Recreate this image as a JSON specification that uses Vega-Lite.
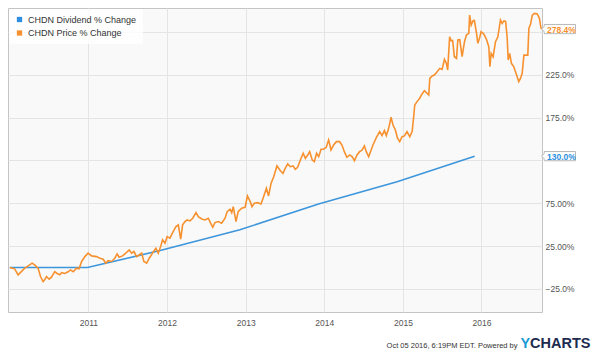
{
  "$schema": "https://vega.github.io/schema/vega-lite/v6.json",
  "width": 534,
  "height": 304,
  "autosize": "none",
  "padding": {"left": 8, "top": 8, "right": 58, "bottom": 43},
  "background": "white",
  "config": {
    "font": "Liberation Sans",
    "view": {"stroke": "#c4c4c4", "strokeWidth": 1, "fill": "#f9f9f9"},
    "axis": {"gridColor": "#e4e4e4", "gridWidth": 1, "domain": false, "ticks": false, "labelColor": "#555555", "labelFont": "Liberation Sans"}
  },
  "datasets": {
    "price": [
      {"date":"2010-01-01","value":0},{"date":"2010-01-24","value":-1.6},{"date":"2010-02-09","value":-8.6},{"date":"2010-02-24","value":-4.8},{"date":"2010-03-12","value":-0.8},{"date":"2010-03-26","value":1.5},{"date":"2010-04-15","value":5},{"date":"2010-04-27","value":3},{"date":"2010-05-13","value":-1},{"date":"2010-05-24","value":-10.6},{"date":"2010-06-05","value":-16.4},{"date":"2010-06-13","value":-14},{"date":"2010-06-21","value":-10.6},{"date":"2010-07-03","value":-13.7},{"date":"2010-07-14","value":-11.3},{"date":"2010-07-29","value":-4.8},{"date":"2010-08-09","value":-7},{"date":"2010-08-22","value":-8.6},{"date":"2010-08-30","value":-6},{"date":"2010-09-14","value":-7},{"date":"2010-09-29","value":-5},{"date":"2010-10-10","value":-2.8},{"date":"2010-10-23","value":-5},{"date":"2010-11-07","value":-0.8},{"date":"2010-11-19","value":-1.5},{"date":"2010-12-01","value":7},{"date":"2010-12-16","value":12.7},{"date":"2010-12-31","value":16.7},
      {"date":"2011-01-16","value":13.5},{"date":"2011-02-08","value":12.7},{"date":"2011-02-24","value":10.8},{"date":"2011-03-11","value":9.6},{"date":"2011-03-23","value":5},{"date":"2011-04-03","value":8},{"date":"2011-04-19","value":7},{"date":"2011-05-04","value":10.8},{"date":"2011-05-15","value":15.9},{"date":"2011-05-24","value":12},{"date":"2011-06-09","value":13.5},{"date":"2011-06-24","value":16.7},{"date":"2011-07-10","value":20.5},{"date":"2011-07-21","value":16.7},{"date":"2011-08-01","value":18.6},{"date":"2011-08-13","value":12.7},{"date":"2011-08-25","value":14.6},{"date":"2011-09-06","value":16.7},{"date":"2011-09-16","value":7},{"date":"2011-09-29","value":5},{"date":"2011-10-11","value":10.8},{"date":"2011-10-31","value":18.6},{"date":"2011-11-11","value":22.5},{"date":"2011-11-22","value":16.7},{"date":"2011-12-03","value":24.4},{"date":"2011-12-12","value":32.2},{"date":"2011-12-23","value":28.4},
      {"date":"2012-01-02","value":36},{"date":"2012-01-15","value":34.2},{"date":"2012-01-30","value":41.9},{"date":"2012-02-12","value":47.7},{"date":"2012-02-23","value":49.7},{"date":"2012-03-05","value":33},{"date":"2012-03-14","value":49.7},{"date":"2012-03-25","value":53.6},{"date":"2012-04-04","value":55.5},{"date":"2012-04-17","value":54.4},{"date":"2012-04-30","value":57.5},{"date":"2012-05-15","value":64},{"date":"2012-05-26","value":59.4},{"date":"2012-06-11","value":56.7},{"date":"2012-06-26","value":55.5},{"date":"2012-07-11","value":57.5},{"date":"2012-07-22","value":51.7},{"date":"2012-08-01","value":47},{"date":"2012-08-11","value":52.4},{"date":"2012-08-27","value":53.6},{"date":"2012-09-11","value":51.7},{"date":"2012-09-27","value":57.5},{"date":"2012-10-07","value":65.2},{"date":"2012-10-20","value":68},{"date":"2012-10-28","value":64},{"date":"2012-11-04","value":71},{"date":"2012-11-17","value":53.6},{"date":"2012-11-27","value":65.2},{"date":"2012-12-13","value":69.2},{"date":"2012-12-29","value":70.3},
      {"date":"2013-01-09","value":83.5},{"date":"2013-01-22","value":76.9},{"date":"2013-01-30","value":71},{"date":"2013-02-10","value":75},{"date":"2013-02-25","value":75.7},{"date":"2013-03-13","value":74.2},{"date":"2013-03-25","value":82.7},{"date":"2013-04-07","value":92.5},{"date":"2013-04-17","value":83.5},{"date":"2013-04-29","value":98.4},{"date":"2013-05-11","value":106},{"date":"2013-05-26","value":118.6},{"date":"2013-06-11","value":113},{"date":"2013-06-23","value":110},{"date":"2013-07-04","value":115.9},{"date":"2013-07-15","value":120.9},{"date":"2013-07-27","value":117.7},{"date":"2013-08-09","value":118.6},{"date":"2013-08-19","value":114.7},{"date":"2013-08-30","value":117},{"date":"2013-09-15","value":127.5},{"date":"2013-09-25","value":133.4},{"date":"2013-10-05","value":127.5},{"date":"2013-10-16","value":131.4},{"date":"2013-10-25","value":135.2},{"date":"2013-11-06","value":125.6},{"date":"2013-11-16","value":123.6},{"date":"2013-11-26","value":133.4},{"date":"2013-12-06","value":129.4},{"date":"2013-12-17","value":138},{"date":"2013-12-28","value":138},
      {"date":"2014-01-10","value":140.4},{"date":"2014-01-21","value":149},{"date":"2014-02-01","value":137.2},{"date":"2014-02-13","value":143},{"date":"2014-02-26","value":146.9},{"date":"2014-03-13","value":146.9},{"date":"2014-03-24","value":143},{"date":"2014-04-04","value":135.2},{"date":"2014-04-16","value":128.7},{"date":"2014-04-29","value":131.4},{"date":"2014-05-10","value":129.4},{"date":"2014-05-21","value":124.7},{"date":"2014-06-02","value":131.4},{"date":"2014-06-14","value":135.2},{"date":"2014-06-25","value":137},{"date":"2014-07-06","value":141.9},{"date":"2014-07-15","value":135.2},{"date":"2014-07-26","value":129.4},{"date":"2014-08-06","value":137},{"date":"2014-08-15","value":143},{"date":"2014-08-31","value":152},{"date":"2014-09-15","value":158.6},{"date":"2014-09-26","value":154},{"date":"2014-10-07","value":159.8},{"date":"2014-10-16","value":154},{"date":"2014-10-27","value":162.5},{"date":"2014-11-07","value":175.4},{"date":"2014-11-16","value":166.4},{"date":"2014-11-27","value":160.6},{"date":"2014-12-07","value":150.9},{"date":"2014-12-17","value":146.9},{"date":"2014-12-28","value":152.7},
      {"date":"2015-01-08","value":153.6},{"date":"2015-01-20","value":158.6},{"date":"2015-02-02","value":152.7},{"date":"2015-02-13","value":158.6},{"date":"2015-02-20","value":176},{"date":"2015-02-25","value":189.7},{"date":"2015-03-08","value":193.7},{"date":"2015-03-20","value":197.6},{"date":"2015-03-31","value":202.6},{"date":"2015-04-11","value":206.5},{"date":"2015-04-23","value":203.4},{"date":"2015-05-01","value":201.4},{"date":"2015-05-06","value":220.8},{"date":"2015-05-17","value":223.6},{"date":"2015-05-27","value":224.7},{"date":"2015-06-09","value":228.6},{"date":"2015-06-21","value":232.5},{"date":"2015-07-02","value":231.3},{"date":"2015-07-13","value":243},{"date":"2015-07-22","value":238.4},{"date":"2015-07-28","value":230.6},{"date":"2015-08-06","value":269.4},{"date":"2015-08-13","value":264.7},{"date":"2015-08-20","value":265},{"date":"2015-08-28","value":246.1},{"date":"2015-09-07","value":244.2},{"date":"2015-09-13","value":265.6},{"date":"2015-09-22","value":266},{"date":"2015-10-03","value":246.1},{"date":"2015-10-14","value":263.6},{"date":"2015-10-23","value":271.4},{"date":"2015-11-03","value":273.4},{"date":"2015-11-07","value":294.7},{"date":"2015-11-14","value":283},{"date":"2015-11-23","value":288.1},{"date":"2015-11-29","value":288.5},{"date":"2015-12-09","value":273.4},{"date":"2015-12-15","value":261.7},{"date":"2015-12-24","value":268.7},{"date":"2015-12-30","value":275.3},
      {"date":"2016-01-12","value":272.6},{"date":"2016-01-24","value":266.4},{"date":"2016-02-04","value":257.8},{"date":"2016-02-09","value":234.4},{"date":"2016-02-15","value":250},{"date":"2016-02-24","value":246},{"date":"2016-03-06","value":263.6},{"date":"2016-03-17","value":269.4},{"date":"2016-03-29","value":289},{"date":"2016-04-06","value":285},{"date":"2016-04-14","value":288},{"date":"2016-04-22","value":287.3},{"date":"2016-04-29","value":269.4},{"date":"2016-05-04","value":242.2},{"date":"2016-05-11","value":250},{"date":"2016-05-19","value":238.4},{"date":"2016-05-30","value":234.4},{"date":"2016-06-12","value":224.7},{"date":"2016-06-22","value":217},{"date":"2016-06-30","value":220.8},{"date":"2016-07-08","value":226.7},{"date":"2016-07-16","value":248},{"date":"2016-07-28","value":248},{"date":"2016-08-03","value":248},{"date":"2016-08-08","value":279.2},{"date":"2016-08-16","value":284.3},{"date":"2016-08-24","value":294.7},{"date":"2016-09-03","value":296.7},{"date":"2016-09-16","value":296},{"date":"2016-09-26","value":290.9},{"date":"2016-10-01","value":283},{"date":"2016-10-05","value":278.4}
    ],
    "dividend": [
      {"date":"2010-01-01","value":0},{"date":"2010-12-28","value":0},{"date":"2011-12-05","value":20},{"date":"2012-12-05","value":44},{"date":"2013-12-05","value":74},{"date":"2014-12-05","value":100},{"date":"2015-11-30","value":130}
    ],
    "callouts": [
      {"series":"CHDN Price % Change","value":278.4,"label":"278.4%"},
      {"series":"CHDN Dividend % Change","value":130,"label":"130.0%"}
    ]
  },
  "resolve": {"axis": {"x": "independent", "y": "independent"}},
  "layer": [
    {
      "data": {"name": "dividend"},
      "mark": {"type": "line", "strokeWidth": 1.6, "interpolate": "linear"},
      "encoding": {
        "x": {"field": "date", "type": "temporal",
              "scale": {"domain": [{"year":2009,"month":12,"date":24},{"year":2016,"month":10,"date":8}]},
              "axis": {"orient": "bottom",
                       "values": [{"year":2011,"month":1,"date":1},{"year":2012,"month":1,"date":1},{"year":2013,"month":1,"date":1},{"year":2014,"month":1,"date":1},{"year":2015,"month":1,"date":1},{"year":2016,"month":1,"date":1}],
                       "format": "%Y", "labelFontSize": 8.5, "labelPadding": 6, "grid": true,
                       "title": "Oct 05 2016, 6:19PM EDT.  Powered by", "titleFontSize": 7.5, "titleFontWeight": "normal", "titleColor": "#333333",
                       "titleAngle": 0, "titleAlign": "right", "titleBaseline": "alphabetic", "titleX": 509, "titleY": 35}},
        "y": {"field": "value", "type": "quantitative",
              "scale": {"domain": [-52, 303], "nice": false, "zero": false},
              "axis": {"orient": "right", "values": [-25, 25, 75, 125, 175, 225, 275],
                       "labelExpr": "datum.value == 25 || datum.value == 75 ? format(datum.value, '.2f') + '%' : (datum.value == 125 || datum.value == 275 ? '' : format(datum.value, '.1f') + '%')",
                       "labelFontSize": 8.5, "labelPadding": 3, "grid": true,
                       "title": "CHARTS", "titleFontSize": 14.5, "titleFontWeight": "bold", "titleColor": "#1d2b4f",
                       "titleAngle": 0, "titleAlign": "right", "titleBaseline": "alphabetic", "titleX": 48, "titleY": 339}},
        "color": {"datum": "CHDN Dividend % Change", "type": "nominal",
                  "scale": {"domain": ["CHDN Dividend % Change", "CHDN Price % Change"], "range": ["#3d96dc", "#f7912f"]},
                  "legend": {"title": null, "orient": "top-left", "offset": 1, "padding": 6, "fillColor": "rgba(255,255,255,0.8)",
                             "labelFontSize": 9, "labelColor": "#333333", "labelLimit": 300, "rowPadding": 3.5,
                             "symbolType": "square", "symbolSize": 28, "symbolStrokeWidth": 0, "labelOffset": 4,
                             "encode": {"symbols": {"update": {"fill": {"scale": "color", "field": "value"}, "stroke": {"value": "transparent"}, "opacity": {"value": 1}}}}}}
      }
    },
    {
      "data": {"name": "price"},
      "mark": {"type": "line", "strokeWidth": 1.6, "interpolate": "linear"},
      "encoding": {
        "x": {"field": "date", "type": "temporal", "axis": null},
        "y": {"field": "value", "type": "quantitative", "axis": null},
        "color": {"datum": "CHDN Price % Change", "type": "nominal"}
      }
    },
    {
      "data": {"name": "callouts"},
      "mark": {"type": "point", "shape": "M-0.05,0L0.22,-0.25L0.22,-0.46L3.35,-0.46L3.35,0.46L0.22,0.46L0.22,0.25Z",
               "size": 400, "filled": true, "fill": "white", "stroke": "#b8b8b8", "strokeWidth": 1, "opacity": 1},
      "encoding": {
        "x": {"datum": {"year":2016,"month":10,"date":8}, "type": "temporal", "axis": null},
        "y": {"field": "value", "type": "quantitative",
              "axis": {"orient": "left", "labels": false, "grid": false, "ticks": false, "domain": false,
                       "title": "Y", "titleFontSize": 14.5, "titleFontWeight": "bold", "titleColor": "#1c9ad6",
                       "titleAngle": 0, "titleAlign": "left", "titleBaseline": "alphabetic", "titleX": 512, "titleY": 339}}
      }
    },
    {
      "data": {"name": "callouts"},
      "mark": {"type": "text", "align": "left", "baseline": "middle", "dx": 5, "dy": 0.5, "fontSize": 8.5, "fontWeight": "bold"},
      "encoding": {
        "x": {"datum": {"year":2016,"month":10,"date":8}, "type": "temporal", "axis": null},
        "y": {"field": "value", "type": "quantitative", "axis": null},
        "text": {"field": "label"},
        "fill": {"field": "series", "type": "nominal", "scale": {"domain": ["CHDN Dividend % Change", "CHDN Price % Change"], "range": ["#2b8ee0", "#f7912f"]}, "legend": null}
      }
    }
  ]
}
